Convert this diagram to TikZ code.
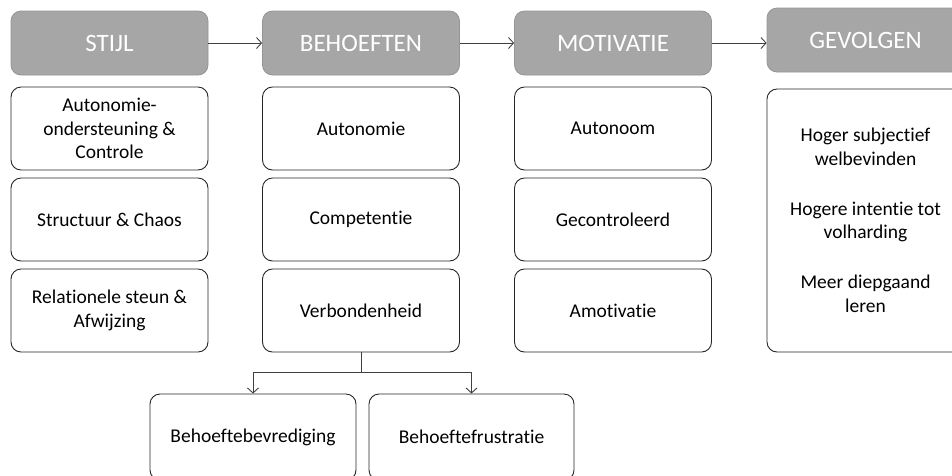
\documentclass[tikz,border=0pt]{standalone}
\usepackage{fontspec}
\setmainfont{Carlito}[Ligatures={NoCommon}]
\usetikzlibrary{arrows.meta}
\definecolor{headfill}{HTML}{A6A6A6}
\definecolor{headline}{HTML}{959595}
\definecolor{boxline}{HTML}{262626}
\definecolor{conline}{HTML}{404040}
\begin{document}
\begin{tikzpicture}[x=1pt,y=-1pt,
  head/.style={draw=headline, fill=headfill, rounded corners=10pt, line width=0.8pt,
    minimum width=197pt, minimum height=64pt, inner sep=0pt, text=white,
    font=\fontsize{25}{30}\selectfont},
  item/.style={draw=boxline, fill=white, rounded corners=10pt, line width=0.9pt,
    minimum width=197pt, minimum height=83pt, inner sep=0pt, align=center,
    font=\fontsize{19.5}{23.5}\selectfont},
  link/.style={draw=conline, line width=0.9pt, -{Straight Barb[length=5pt,width=11pt]}}
]
\useasboundingbox (0,0) rectangle (952,475);

% column headers
\node[head] (stijl) at (109.5,43) {STIJL};
\node[head] (beh)   at (361,43)   {BEHOEFTEN};
\node[head] (mot)   at (613,43)   {MOTIVATIE};
\node[head] (gev)   at (865.5,40) {GEVOLGEN};

% column 1
\node[item] (s1) at (109.5,128.5) {Autonomie-\\ondersteuning \&\\Controle};
\node[item] (s2) at (109.5,219.5) {Structuur \& Chaos};
\node[item] (s3) at (109.5,310.5) {Relationele steun \&\\Afwijzing};

% column 2
\node[item] (b1) at (361,128.5) {Autonomie};
\node[item] (b2) at (361,219.5) {Competentie};
\node[item] (b3) at (361,310.5) {Verbondenheid};

% column 3
\node[item] (m1) at (613,128.5) {Autonoom};
\node[item] (m2) at (613,219.5) {Gecontroleerd};
\node[item] (m3) at (613,310.5) {Amotivatie};

% column 4
\node[item, minimum height=263pt] (g1) at (865.5,220.5)
  {Hoger subjectief\\welbevinden\\[26.5pt]Hogere intentie tot\\volharding\\[26.5pt]Meer diepgaand\\leren};

% need outcomes
\node[item, minimum width=206pt, minimum height=86pt] (bev) at (253,437) {Behoeftebevrediging};
\node[item, minimum width=205pt, minimum height=86pt] (fru) at (471.5,437) {Behoeftefrustratie};

% flow between headers
\draw[link] (stijl.east) -- (beh.west);
\draw[link] (beh.east) -- (mot.west);
\draw[link] (mot.east) -- (mot.east -| gev.west);

% split below Verbondenheid
\draw[draw=conline, line width=0.9pt] (b3.south) -- ++(0,20) coordinate (split);
\draw[link] (split) -| (bev.north);
\draw[link] (split) -| (fru.north);
\end{tikzpicture}
\end{document}
